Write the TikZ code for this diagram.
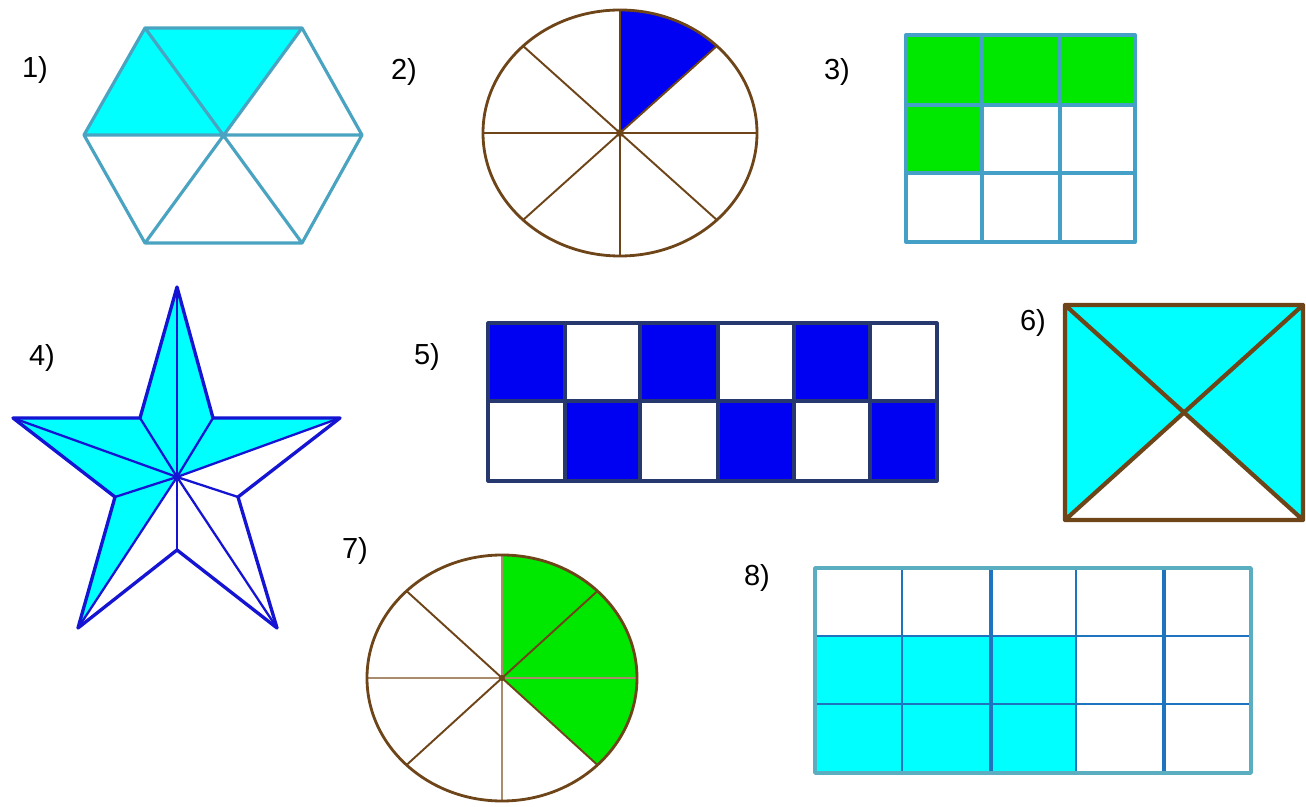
\documentclass[tikz,border=0pt]{standalone}
\usepackage{fontspec}
\setmainfont{Liberation Sans}
\usepackage{tikz}
\usetikzlibrary{calc}
\definecolor{hexline}{HTML}{4AA3C0}
\definecolor{gridline}{HTML}{45A0C8}
\definecolor{tileline}{HTML}{1E74BE}
\definecolor{tileframe}{HTML}{5AAEC0}
\definecolor{pieline}{HTML}{6E4519}
\definecolor{pietan}{HTML}{A88C6C}
\definecolor{starline}{HTML}{1414D2}
\definecolor{checkline}{HTML}{26386E}
\definecolor{partcyan}{HTML}{00FFFF}
\definecolor{partgreen}{HTML}{00E800}
\definecolor{partblue}{HTML}{0000F2}

\begin{document}
\begin{tikzpicture}[x=0.02cm,y=-0.02cm,line join=round,
 lab/.style={font=\fontsize{16.5}{18}\selectfont},
 hexedge/.style={hexline,line width=1.8pt},
 gridedge/.style={gridline,line width=2.3pt},
 pieedge/.style={pieline,line width=1.6pt},
 piespoke/.style={pieline,line width=1.1pt},
 staredge/.style={starline,line width=1.9pt},
 checkedge/.style={checkline,line width=1.8pt},
 tileedge/.style={tileline,line width=1.3pt}]
\useasboundingbox (0,0) rectangle (1306,807);
\node[lab] (l1) at (35,70) {1)};
\node[lab] (l2) at (404,72) {2)};
\node[lab] (l3) at (837,72) {3)};
\node[lab] (l4) at (42,358) {4)};
\node[lab] (l5) at (427,357) {5)};
\node[lab] (l6) at (1033,323) {6)};
\node[lab] (l7) at (355,551) {7)};
\node[lab] (l8) at (757,578) {8)};
\coordinate (hl) at (84,135); \coordinate (htl) at (145,28);
\coordinate (htr) at (302,28); \coordinate (hr) at (362,135);
\coordinate (hbr) at (302,243); \coordinate (hbl) at (145,243);
\coordinate (ho) at (223,135);
\fill[partcyan] (hl)--(htl)--(htr)--(ho)--cycle;
\draw[hexedge] (hl)--(htl)--(htr)--(hr)--(hbr)--(hbl)--cycle
 (hl)--(hr) (htl)--(hbr) (htr)--(hbl);
\coordinate (c2) at (620,133);
\fill[partblue] (c2)--++(0,-123) arc[start angle=270,end angle=315,x radius=137,y radius=123]--cycle;
\foreach \a in {0,45,...,315}
 \draw[piespoke] (c2)--++(\a:137 and 123);
\draw[pieedge] (c2) ellipse[x radius=137,y radius=123];
\fill[pieline] (c2) circle (4);
\fill[partgreen] (906,35) rectangle (1135,105) (906,105) rectangle (982,173);
\draw[gridedge] (906,35) rectangle (1135,242);
\foreach \x in {982,1060} \draw[gridedge] (\x,35)--(\x,242);
\foreach \y in {105,173} \draw[gridedge] (906,\y)--(1135,\y);
\coordinate (so) at (177,477);
\coordinate (st) at (177,287); \coordinate (sl) at (13,418);
\coordinate (sr) at (340,418); \coordinate (sbl) at (78,628);
\coordinate (sbr) at (277,628); \coordinate (sul) at (140,418);
\coordinate (sur) at (213,418); \coordinate (sll) at (115,497);
\coordinate (slr) at (238,497); \coordinate (sb) at (177,550);
\fill[partcyan] (so)--(sbl)--(sll)--(sl)--(sul)--(st)--(sur)--(sr)--cycle;
\draw[staredge] (st)--(sur)--(sr)--(slr)--(sbr)--(sb)--(sbl)--(sll)--(sl)--(sul)--cycle;
\foreach \p in {st,sur,sr,slr,sbr,sb,sbl,sll,sl,sul}
 \draw[staredge,line width=1.3pt] (so)--(\p);
\foreach \a/\b in {488/565,640/718,794/870}
 \fill[partblue] (\a,323) rectangle (\b,401);
\foreach \a/\b in {565/640,718/794,870/937}
 \fill[partblue] (\a,401) rectangle (\b,481);
\draw[checkedge] (488,323) rectangle (937,481) (488,401)--(937,401);
\foreach \x in {565,640,718,794,870} \draw[checkedge] (\x,323)--(\x,481);
\coordinate (r6) at (1185,413);
\fill[partcyan] (1065,305)--(1303,305)--(1303,520)--(r6)--(1065,520)--cycle;
\draw[pieedge,line width=2.4pt] (1065,305) rectangle (1303,520)
 (1065,305)--(1303,520) (1303,305)--(1065,520);
\coordinate (c7) at (502,678);
\fill[partgreen] (c7)--++(0,-123) arc[start angle=270,end angle=405,x radius=135,y radius=123]--cycle;
\foreach \a in {45,135,225,315}
 \draw[piespoke] (c7)--++(\a:135 and 123);
\foreach \a in {0,90,180,270}
 \draw[piespoke,pietan,line width=1.5pt] (c7)--++(\a:135 and 123);
\draw[pieedge] (c7) ellipse[x radius=135,y radius=123];
\fill[pieline] (c7) circle (3);
\fill[partcyan] (815,636) rectangle (1076,773);
\foreach \y in {636,704} \draw[tileedge] (815,\y)--(1251,\y);
\foreach \x in {902,1076} \draw[tileedge] (\x,568)--(\x,773);
\foreach \x in {991,1164} \draw[tileedge,line width=2pt] (\x,568)--(\x,773);
\draw[tileframe,line width=2pt] (815,568) rectangle (1251,773);
\end{tikzpicture}
\end{document}
